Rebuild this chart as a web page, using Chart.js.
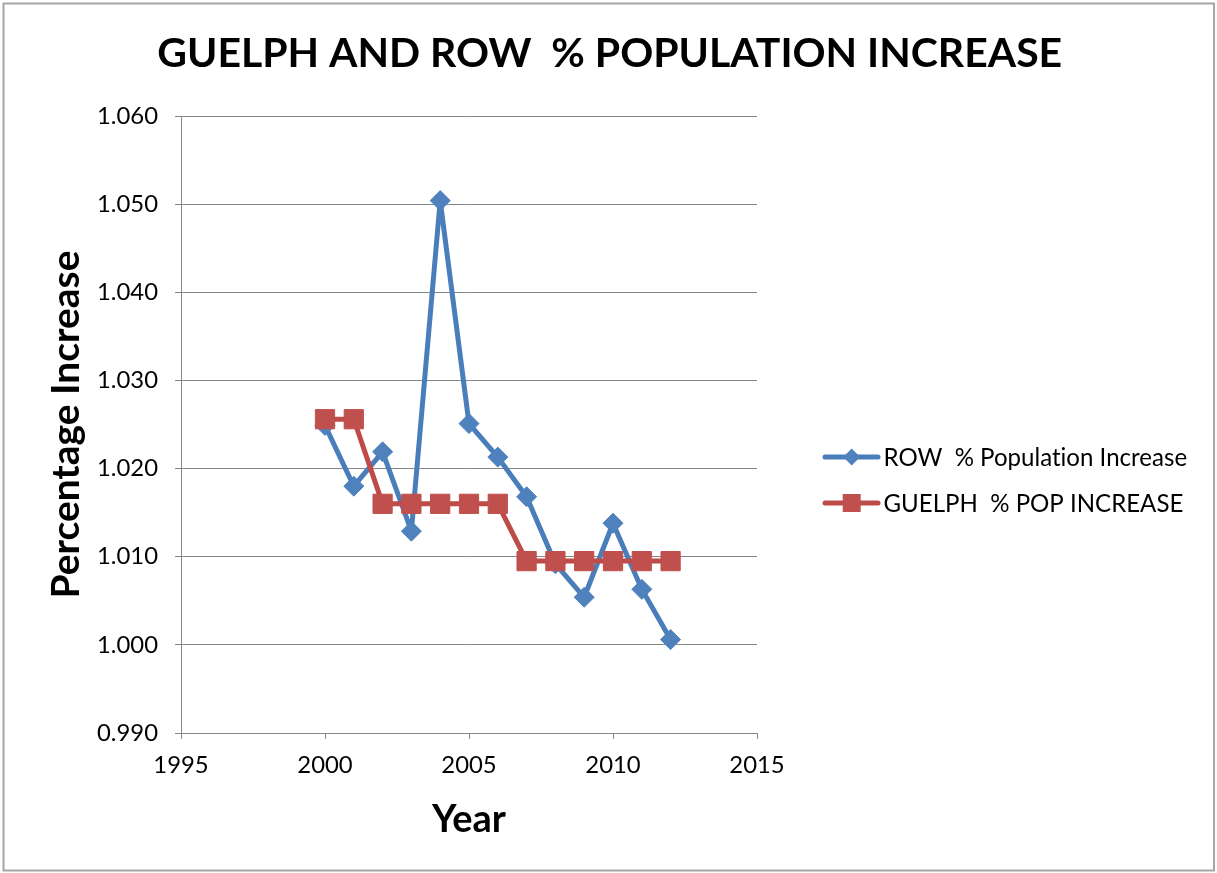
<!DOCTYPE html>
<html>
<head>
<meta charset="utf-8">
<script src="https://cdn.jsdelivr.net/npm/chart.js@4.4.1/dist/chart.umd.min.js"></script>
<style>
  html, body { margin: 0; padding: 0; background: #ffffff; }
  #wrap { width: 1217px; height: 873px; position: relative; }
</style>
</head>
<body>
<div id="wrap"><canvas id="chart" width="1217" height="873"></canvas></div>
<script>
// Yearly population growth factors
const years = [2000, 2001, 2002, 2003, 2004, 2005, 2006, 2007, 2008, 2009, 2010, 2011, 2012];
const rowIncrease    = [1.0249, 1.0180, 1.0219, 1.0129, 1.0504, 1.0251, 1.0213, 1.0168, 1.0092, 1.0054, 1.0138, 1.0063, 1.0006];
const guelphIncrease = [1.0256, 1.0256, 1.0160, 1.0160, 1.0160, 1.0160, 1.0160, 1.0095, 1.0095, 1.0095, 1.0095, 1.0095, 1.0095];

const xTickValues = [1995, 2000, 2005, 2010, 2015];
const yTickValues = [0.990, 1.000, 1.010, 1.020, 1.030, 1.040, 1.050, 1.060];

const chartTitle = 'GUELPH AND ROW  % POPULATION INCREASE';
const seriesNames = ['ROW  % Population Increase', 'GUELPH  % POP INCREASE'];
const xAxisTitle = 'Year';
const yAxisTitle = 'Percentage Increase';

const FAMILY = 'Lato, "Open Sans", sans-serif';
const BLUE_LINE = '#4A7EBB', BLUE_FILL = '#4F81BD';
const RED_LINE = '#BE4B48', RED_FILL = '#C0504D';
const GRID = '#868686';

// pick a font size so that a string spans a given width
const measureCtx = document.createElement('canvas').getContext('2d');
function fitSize(text, weight, width) {
  measureCtx.font = weight + ' 100px ' + FAMILY;
  return 100 * width / measureCtx.measureText(text).width;
}
const titleSize  = fitSize(chartTitle, 'bold', 905);
const yTitleSize = fitSize(yAxisTitle, 'bold', 348);
const xTitleSize = fitSize(xAxisTitle, 'bold', 74);
const tickSize   = fitSize('1.060', 'normal', 61);
const legendSize = fitSize(seriesNames[0], 'normal', 304);

const toPoints = (vals) => years.map((y, i) => ({ x: y, y: vals[i] }));

// frame, title and legend drawn around the plot
const decorations = {
  id: 'decorations',
  beforeDraw(chart) {
    const ctx = chart.ctx;
    ctx.save();
    ctx.fillStyle = '#ffffff';
    ctx.fillRect(0, 0, chart.width, chart.height);
    ctx.strokeStyle = '#a6a6a6';
    ctx.lineWidth = 2;
    ctx.strokeRect(3.5, 3.5, 1210.5, 867);
    ctx.restore();
  },
  afterDraw(chart) {
    const ctx = chart.ctx;
    ctx.save();
    ctx.fillStyle = '#000000';
    ctx.font = 'bold ' + titleSize + 'px ' + FAMILY;
    ctx.textAlign = 'center';
    ctx.textBaseline = 'alphabetic';
    ctx.fillText(chartTitle, 609.7, 66.7);

    // legend
    const rows = [
      { name: seriesNames[0], y: 457, line: BLUE_LINE, fill: BLUE_FILL, shape: 'diamond' },
      { name: seriesNames[1], y: 503, line: RED_LINE, fill: RED_FILL, shape: 'square' }
    ];
    rows.forEach(r => {
      ctx.strokeStyle = r.line;
      ctx.lineWidth = 5;
      ctx.lineCap = 'round';
      ctx.beginPath();
      ctx.moveTo(825, r.y);
      ctx.lineTo(878, r.y);
      ctx.stroke();
      ctx.fillStyle = r.fill;
      ctx.beginPath();
      if (r.shape === 'diamond') {
        const h = 8.5;
        ctx.moveTo(851.7 - h, r.y);
        ctx.lineTo(851.7, r.y - h);
        ctx.lineTo(851.7 + h, r.y);
        ctx.lineTo(851.7, r.y + h);
        ctx.closePath();
      } else {
        ctx.rect(851.7 - 9, r.y - 9, 18, 18);
      }
      ctx.fill();
      ctx.fillStyle = '#000000';
      ctx.font = legendSize + 'px ' + FAMILY;
      if ('textRendering' in ctx) ctx.textRendering = 'optimizeSpeed';
      if ('letterSpacing' in ctx) ctx.letterSpacing = '0.01px';
      ctx.textAlign = 'left';
      ctx.textBaseline = 'middle';
      ctx.fillText(r.name, 883.5, r.y + 1);
    });
    ctx.restore();
  }
};

new Chart(document.getElementById('chart'), {
  type: 'line',
  data: {
    datasets: [
      {
        label: seriesNames[0],
        data: toPoints(rowIncrease),
        borderColor: BLUE_LINE,
        backgroundColor: BLUE_FILL,
        borderWidth: 5,
        borderJoinStyle: 'round',
        borderCapStyle: 'round',
        pointStyle: 'rectRot',
        pointRadius: 10,
        pointBorderWidth: 1,
        pointBorderColor: BLUE_FILL,
        pointBackgroundColor: BLUE_FILL,
        tension: 0,
        order: 2
      },
      {
        label: seriesNames[1],
        data: toPoints(guelphIncrease),
        borderColor: RED_LINE,
        backgroundColor: RED_FILL,
        borderWidth: 5,
        borderJoinStyle: 'round',
        borderCapStyle: 'round',
        pointStyle: 'rect',
        pointRadius: 13.6,
        pointBorderWidth: 1,
        pointBorderColor: RED_FILL,
        pointBackgroundColor: RED_FILL,
        tension: 0,
        order: 1
      }
    ]
  },
  options: {
    responsive: false,
    devicePixelRatio: 1,
    animation: false,
    events: [],
    layout: { padding: { top: 116, right: 460, bottom: 0, left: 0 } },
    plugins: {
      legend: { display: false },
      title: { display: false },
      tooltip: { enabled: false }
    },
    scales: {
      x: {
        type: 'linear',
        min: 1995,
        max: 2015,
        afterFit(scale) { scale.height = 140; },
        afterBuildTicks(scale) { scale.ticks = xTickValues.map(v => ({ value: v })); },
        ticks: {
          callback: v => String(v),
          color: '#000000',
          font: { family: FAMILY, size: tickSize },
          padding: 12,
          maxRotation: 0
        },
        grid: { drawOnChartArea: false, drawTicks: true, tickLength: 6, color: GRID, lineWidth: 1 },
        border: { display: true, color: GRID, width: 1 },
        title: {
          display: true,
          text: xAxisTitle,
          color: '#000000',
          font: { family: FAMILY, size: xTitleSize, weight: 'bold', lineHeight: 1 },
          padding: { top: 0, bottom: 873 - 820 - xTitleSize / 2 }
        }
      },
      y: {
        type: 'linear',
        min: 0.99,
        max: 1.06,
        afterFit(scale) { scale.width = 181; },
        afterBuildTicks(scale) { scale.ticks = yTickValues.map(v => ({ value: v })); },
        ticks: {
          callback: v => Number(v).toFixed(3),
          color: '#000000',
          font: { family: FAMILY, size: tickSize },
          padding: 17
        },
        grid: { drawTicks: true, tickLength: 6, color: GRID, lineWidth: 1 },
        border: { display: true, color: GRID, width: 1 },
        title: {
          display: true,
          text: yAxisTitle,
          color: '#000000',
          font: { family: FAMILY, size: yTitleSize, weight: 'bold', lineHeight: 1 },
          padding: { top: 66 - yTitleSize / 2, bottom: 0 }
        }
      }
    }
  },
  plugins: [decorations]
});
</script>
</body>
</html>
